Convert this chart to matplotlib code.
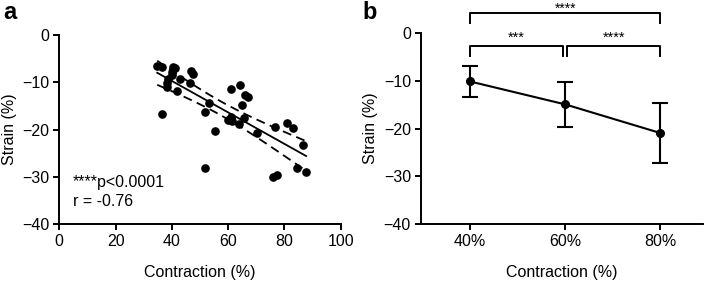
import numpy as np
import matplotlib
matplotlib.use("Agg")
import matplotlib.pyplot as plt

plt.rcParams['font.family'] = ['Liberation Sans', 'DejaVu Sans']
plt.rcParams['font.size'] = 11.5

# panel a: contraction vs strain, one point per sample
contraction = [34.8, 36.4, 40.5, 39.9, 38.7, 38.2, 38.2, 40.0, 41.0, 42.9, 41.7,
               46.4, 46.7, 47.6, 36.4, 51.8, 53.3, 55.3, 51.8, 60.1, 61.0, 61.0,
               61.2, 61.0, 64.2, 64.8, 63.9, 66.0, 67.2, 65.6, 70.1, 76.7, 80.8,
               82.9, 86.5, 75.8, 77.3, 84.6, 87.7]
strain = [-6.5, -6.7, -6.7, -8.5, -9.2, -10.2, -10.9, -7.8, -7.0, -9.4, -11.8,
          -10.2, -7.6, -8.3, -16.8, -16.2, -14.3, -20.3, -28.2, -18.0, -11.5, -17.4,
          -18.2, -17.9, -10.6, -14.8, -18.8, -12.7, -13.1, -17.6, -20.7, -19.4, -18.6,
          -19.6, -23.3, -30.0, -29.6, -28.2, -28.9]

# panel b: mean +/- sd per contraction level
levels = ['40%', '60%', '80%']
strain_mean = [-10.1, -14.9, -20.9]
strain_sd = [3.2, 4.7, 6.2]

fig = plt.figure(figsize=(7.09, 2.82), dpi=100)
ax1 = fig.add_axes([0.0836, 0.2057, 0.397, 0.670])
ax2 = fig.add_axes([0.5934, 0.2057, 0.398, 0.676])

for ax in (ax1, ax2):
    for s in ['top', 'right']:
        ax.spines[s].set_visible(False)
    for s in ['left', 'bottom']:
        ax.spines[s].set_linewidth(1.4)
    ax.tick_params(width=1.4, length=4, pad=3, labelsize=11.5)
    ax.set_ylim(-40, 0)
    ax.set_yticks([0, -10, -20, -30, -40])
    ax.set_ylabel('Strain (%)')
    ax.set_xlabel('Contraction (%)', labelpad=12)

ax1.yaxis.set_label_coords(-0.15, 0.5)
ax2.yaxis.set_label_coords(-0.153, 0.5)

# --- a ---
x = np.array(contraction)
y = np.array(strain)
ax1.plot(x, y, 'o', color='black', markersize=5.2, clip_on=False)
b1, b0 = np.polyfit(x, y, 1)
xs = np.linspace(x.min(), x.max(), 100)
ys = b0 + b1 * xs
n = len(x)
resid = y - (b0 + b1 * x)
se = np.sqrt(np.sum(resid ** 2) / (n - 2))
sxx = np.sum((x - x.mean()) ** 2)
band = 2.03 * se * np.sqrt(1.0 / n + (xs - x.mean()) ** 2 / sxx)
ax1.plot(xs, ys, color='black', lw=1.3)
ax1.plot(xs, ys + band, color='black', lw=1.3, ls=(0, (5, 3)))
ax1.plot(xs, ys - band, color='black', lw=1.3, ls=(0, (5, 3)))
ax1.set_xlim(0, 100)
ax1.set_xticks([0, 20, 40, 60, 80, 100])
ax1.text(4.8, -31.3, '****p<0.0001', va='center', ha='left')
ax1.text(4.8, -35.3, 'r = -0.76', va='center', ha='left')

# --- b ---
pos = np.arange(len(levels))
ax2.errorbar(pos, strain_mean, yerr=strain_sd, color='black', marker='o',
             markersize=5.5, lw=1.5, elinewidth=1.5, capsize=6, capthick=1.5)
ax2.set_xlim(-0.52, 2.45)
ax2.set_xticks(pos)
ax2.set_xticklabels(levels)


def bracket(ax, x0, x1, y_bar, y_leg, label, y_text, fs=10.5):
    ax.plot([x0, x0, x1, x1], [y_leg, y_bar, y_bar, y_leg], color='black',
            lw=1.4, clip_on=False)
    ax.text((x0 + x1) / 2, y_text, label, ha='center', va='bottom', fontsize=fs)


bracket(ax2, 0, 0.98, -2.7, -4.8, '***', -2.4)
bracket(ax2, 1.02, 2, -2.7, -4.8, '****', -2.4)
bracket(ax2, 0, 2, 4.2, 2.2, '****', 3.7, fs=10)

fig.text(0.004, 0.955, 'a', fontsize=17, fontweight='bold', va='center')
fig.text(0.511, 0.955, 'b', fontsize=17, fontweight='bold', va='center')

fig.savefig('out.png', dpi=100)
